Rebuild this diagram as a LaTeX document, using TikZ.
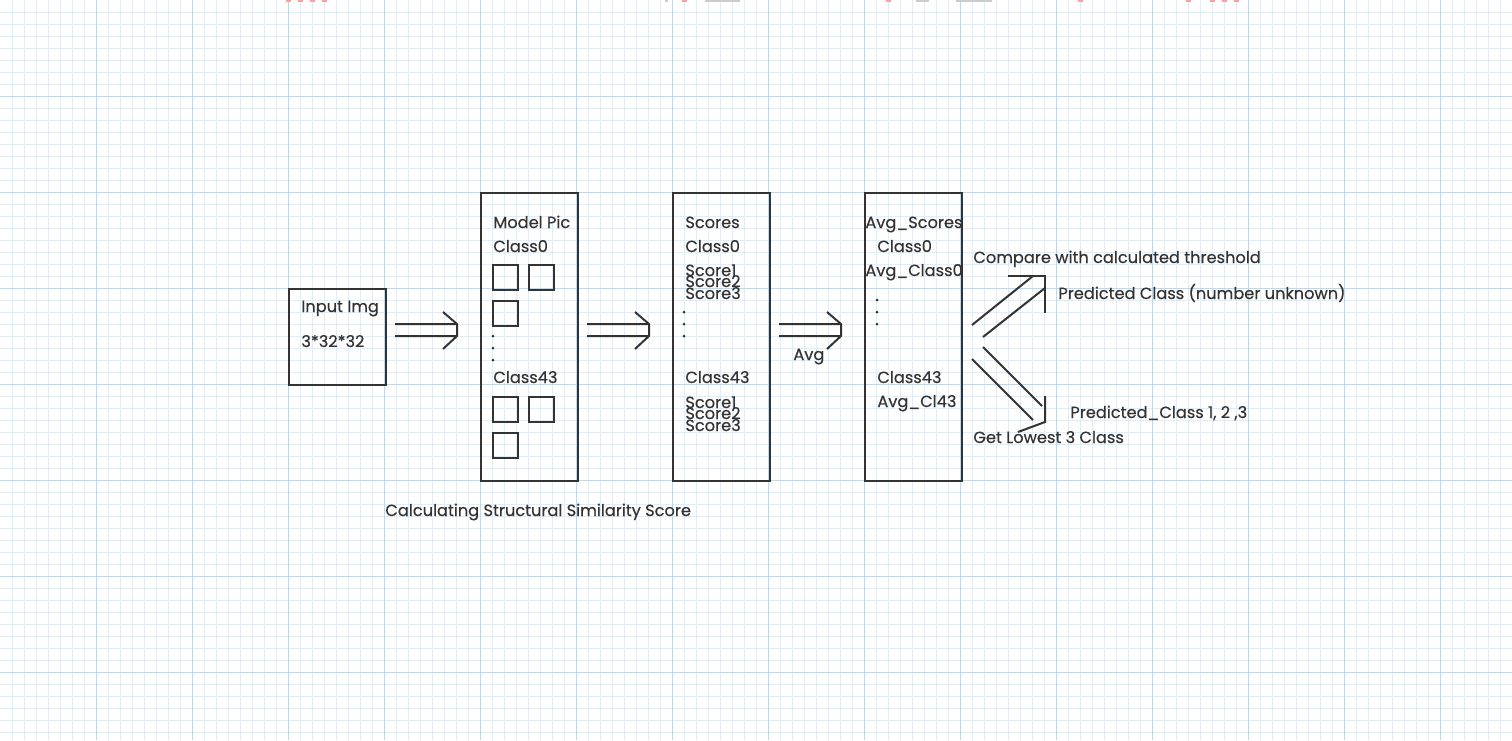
\documentclass[tikz,border=0pt]{standalone}
\usepackage{fontspec}
\setmainfont[UprightFeatures={FakeBold=0.35}]{Poppins}
\definecolor{ink}{HTML}{333333}
\definecolor{gminor}{HTML}{DCEEFD}
\definecolor{gmajor}{HTML}{B8D9F6}
\definecolor{redfrag}{HTML}{FF9E9E}
\definecolor{grayfrag}{HTML}{CCCCCC}
\newcommand\fs{\fontsize{8.1}{9.6}\selectfont}
\tikzset{
  ln/.style={draw=ink, line width=1pt},
  box/.style={ln, rectangle, inner sep=0pt, anchor=north west},
  sq/.style={box, minimum width=12.5pt, minimum height=12.5pt},
  txt/.style={inner sep=0pt, anchor=base west, text=ink, font=\fs},
  dot/.style={circle, fill=ink, inner sep=0pt, minimum size=1.5pt},
  dbl/.pic={\draw[ln, line join=miter] (0,0) -- (62,0) (0,12) -- (62,12) (48,-12) -- (62,0) -- (62,12) -- (48,25);}
}
\begin{document}
\begin{tikzpicture}[x=0.5pt, y=-0.5pt]
\fill[white] (0,0) rectangle (1512,740);
\useasboundingbox (0,0) rectangle (1512,740);
% grid
\foreach \x in {12,24,...,1500} \draw[gminor, line width=0.5pt] (\x,0) -- (\x,740);
\foreach \y in {12,24,...,732} \draw[gminor, line width=0.5pt] (0,\y) -- (1512,\y);
\foreach \x in {96,192,...,1440} \draw[gmajor, line width=0.5pt] (\x,0) -- (\x,740);
\foreach \y in {96,192,...,672} \draw[gmajor, line width=0.5pt] (0,\y) -- (1512,\y);
% cut-off fragments at top edge
\foreach \a in {286,298,310,322,682,886,1078,1186,1210,1222,1234} \fill[redfrag] (\a,0) rectangle ++(5,1.5);
\foreach \a/\b in {665/668,705/740,916/929,956/992} \fill[grayfrag] (\a,0) rectangle (\b,1.5);

% Input box
\node[box, minimum width=48.5pt, minimum height=48pt] (input) at (288,288) {};
\node[txt] (inlab) at (301,312) {Input Img};
\node[txt] (insize) at (301,347) {3*32*32};

% Model pic box
\node[box, minimum width=48.5pt, minimum height=144pt] (model) at (480,192) {};
\node[txt] (mtitle) at (493,228) {Model Pic};
\node[txt] (mc0) at (493,252) {Class0};
\node[sq] (s1) at (492,264) {};
\node[sq] (s2) at (528,264) {};
\node[sq] (s3) at (492,300) {};
\node[dot] (md1) at (493,336) {};
\node[dot] (md2) at (493,348) {};
\node[dot] (md3) at (493,360) {};
\node[txt] (mc43) at (493,383) {Class43};
\node[sq] (s4) at (492,396) {};
\node[sq] (s5) at (528,396) {};
\node[sq] (s6) at (492,432) {};
\node[txt] (calc) at (385,516) {Calculating Structural Similarity Score};

% Scores box
\node[box, minimum width=48.5pt, minimum height=144pt] (scores) at (672,192) {};
\node[txt] (stitle) at (685,228) {Scores};
\node[txt] (sc0) at (685,252) {Class0};
\node[txt] (sa1) at (685,276) {Score1};
\node[txt] (sa2) at (685,287) {Score2};
\node[txt] (sa3) at (685,299) {Score3};
\node[dot] (sd1) at (684,312) {};
\node[dot] (sd2) at (684,324) {};
\node[dot] (sd3) at (684,336) {};
\node[txt] (sc43) at (685,383) {Class43};
\node[txt] (sb1) at (685,408) {Score1};
\node[txt] (sb2) at (685,419) {Score2};
\node[txt] (sb3) at (685,431) {Score3};

% Avg box
\node[box, minimum width=48.5pt, minimum height=144pt] (avg) at (864,192) {};
\node[txt] (atitle) at (865,228) {Avg\_Scores};
\node[txt] (ac0) at (877,252) {Class0};
\node[txt] (aac0) at (865,276) {Avg\_Class0};
\node[dot] (ad1) at (877,300) {};
\node[dot] (ad2) at (877,312) {};
\node[dot] (ad3) at (877,324) {};
\node[txt] (ac43) at (877,383) {Class43};
\node[txt] (aac43) at (877,407) {Avg\_Cl43};

% double arrows
\pic (arr1) at (395,324) {dbl};
\pic (arr2) at (587,324) {dbl};
\pic (arr3) at (779,324) {dbl};
\node[txt] (avglab) at (793,360) {Avg};

% right branch arrows
\coordinate (u1s) at (972,325); \coordinate (u1e) at (1033,276);
\coordinate (u2s) at (983,337); \coordinate (u2e) at (1045,288);
\coordinate (uh1) at (1008,276); \coordinate (uh2) at (1045,276); \coordinate (uh3) at (1045,313);
\draw[ln] (u1s) -- (u1e);
\draw[ln] (u2s) -- (u2e);
\draw[ln, line join=miter] (uh1) -- (uh2) -- (uh3);
\coordinate (l1s) at (972,359); \coordinate (l1e) at (1033,420);
\coordinate (l2s) at (983,347); \coordinate (l2e) at (1042,406);
\coordinate (lh1) at (1045,396); \coordinate (lh2) at (1045,422); \coordinate (lh3) at (1018,432);
\draw[ln] (l1s) -- (l1e);
\draw[ln] (l2s) -- (l2e);
\draw[ln, line join=miter] (lh1) -- (lh2) -- (lh3);

\node[txt] (cmp) at (973,263) {Compare with calculated threshold};
\node[txt] (pc) at (1058,299) {Predicted Class (number unknown)};
\node[txt] (pc3) at (1070,418) {Predicted\_Class 1, 2 ,3};
\node[txt] (low) at (973,443) {Get Lowest 3 Class};
\end{tikzpicture}
\end{document}
